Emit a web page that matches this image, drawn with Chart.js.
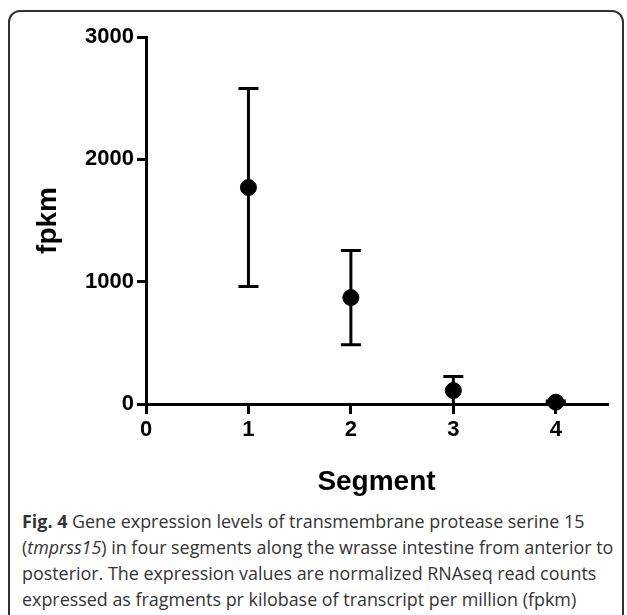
<!DOCTYPE html>
<html lang="en">
<head>
    <meta charset="UTF-8">
    <title>Fig. 4 - tmprss15 expression</title>
    <script src="https://cdn.jsdelivr.net/npm/chart.js"></script>
    <style>
        body {
            margin: 0;
            padding: 0;
            background: #fff;
            width: 627px;
            height: 615px;
            overflow: hidden;
            position: relative;
        }
        .frame {
            position: absolute;
            left: 8px;
            top: 10px;
            width: 616px;
            height: 620px;
            border: 2px solid #333;
            border-radius: 12px;
            box-sizing: border-box;
        }
        .chart-box {
            position: absolute;
            left: 0;
            top: 0;
            width: 627px;
            height: 500px;
        }
        .caption {
            position: absolute;
            left: 22px;
            top: 508px;
            width: 600px;
            font-family: "Open Sans", sans-serif;
            font-size: 17.9px;
            line-height: 26px;
            color: #333;
            white-space: nowrap;
        }
    </style>
</head>
<body>
    <div class="frame"></div>
    <div class="chart-box">
        <canvas id="fpkmChart" width="627" height="500"></canvas>
    </div>
    <div class="caption">
        <b>Fig. 4</b> Gene expression levels of transmembrane protease serine 15<br>
        (<i>tmprss15</i>) in four segments along the wrasse intestine from anterior to<br>
        posterior. The expression values are normalized RNAseq read counts<br>
        expressed as fragments pr kilobase of transcript per million (fpkm)
    </div>

    <script>
        // values
        const segments = [1, 2, 3, 4];
        const fpkmMean = [1770, 870, 110, 15];
        const fpkmErr = [810, 385, 115, 10];
        const xTicks = [0, 1, 2, 3, 4];
        const yTicks = [0, 1000, 2000, 3000];

        const points = segments.map((s, i) => ({ x: s, y: fpkmMean[i] }));

        // draws the error bars with the chart scales, before the points go on top
        const errorBars = {
            id: 'errorBars',
            beforeDatasetsDraw(chart) {
                const ctx = chart.ctx;
                const xs = chart.scales.x;
                const ys = chart.scales.y;
                ctx.save();
                ctx.strokeStyle = '#000';
                ctx.lineWidth = 3;
                segments.forEach((s, i) => {
                    const px = xs.getPixelForValue(s);
                    const hi = ys.getPixelForValue(fpkmMean[i] + fpkmErr[i]);
                    const lo = ys.getPixelForValue(Math.max(0, fpkmMean[i] - fpkmErr[i]));
                    ctx.beginPath();
                    ctx.moveTo(px, hi);
                    ctx.lineTo(px, lo);
                    ctx.moveTo(px - 10, hi);
                    ctx.lineTo(px + 10, hi);
                    if (fpkmMean[i] - fpkmErr[i] > 0) {
                        ctx.moveTo(px - 10, lo);
                        ctx.lineTo(px + 10, lo);
                    }
                    ctx.stroke();
                });
                ctx.restore();
            }
        };

        const axisFont = { family: '"Liberation Sans", Arial, sans-serif', weight: 'bold', size: 22 };
        const titleFont = { family: '"Liberation Sans", Arial, sans-serif', weight: 'bold', size: 28 };

        new Chart(document.getElementById('fpkmChart'), {
            type: 'scatter',
            data: {
                datasets: [{
                    data: points,
                    pointRadius: 8,
                    pointHoverRadius: 8,
                    backgroundColor: '#000',
                    borderColor: '#000',
                    clip: false
                }]
            },
            options: {
                responsive: false,
                animation: false,
                events: [],
                layout: { padding: { top: 37, right: 20, left: 0, bottom: 0 } },
                plugins: { legend: { display: false }, tooltip: { enabled: false } },
                scales: {
                    x: {
                        type: 'linear',
                        min: 0,
                        max: 4.5,
                        afterBuildTicks: axis => {
                            axis.ticks = xTicks.map(v => ({ value: v }));
                        },
                        afterFit: axis => { axis.height = 96; },
                        ticks: { color: '#000', font: axisFont, padding: 3, callback: v => String(v) },
                        grid: { drawOnChartArea: false, tickLength: 10, color: '#000', lineWidth: 3 },
                        border: { color: '#000', width: 3 },
                        title: {
                            display: true,
                            text: 'Segment',
                            color: '#000',
                            font: titleFont,
                            padding: { top: 0, bottom: 1 }
                        }
                    },
                    y: {
                        min: 0,
                        max: 3000,
                        afterBuildTicks: axis => {
                            axis.ticks = yTicks.map(v => ({ value: v }));
                        },
                        afterFit: axis => { axis.width = 146; },
                        ticks: { color: '#000', font: axisFont, padding: 3, callback: v => String(v) },
                        grid: { drawOnChartArea: false, tickLength: 9, color: '#000', lineWidth: 3 },
                        border: { color: '#000', width: 3 },
                        title: {
                            display: true,
                            text: 'fpkm',
                            color: '#000',
                            font: titleFont,
                            padding: { top: 31, bottom: 0 }
                        }
                    }
                }
            },
            plugins: [errorBars]
        });
    </script>
</body>
</html>
